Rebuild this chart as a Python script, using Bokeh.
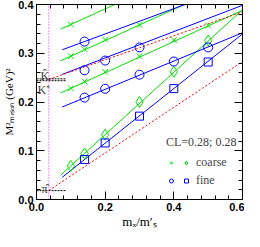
from bokeh.plotting import figure
from bokeh.models import (LinearAxis, FixedTicker, Range1d, Label, Legend,
                          LegendItem, ColumnDataSource)
from bokeh.embed import file_html
from bokeh.resources import INLINE

# ---------------- data ----------------
# coarse lattice (green)
mx_coarse = [0.10, 0.14, 0.20, 0.30, 0.40, 0.50]
pi_coarse = [0.069, 0.094, 0.133, 0.200, 0.262, 0.326]          # diamonds
kC_coarse = [0.228, 0.242, 0.262, 0.294, 0.327, 0.357]          # crosses, lowest K line
mx_kB_coarse = [0.10, 0.14, 0.20, 0.30]
kB_coarse = [0.294, 0.308, 0.328, 0.358]
mx_kA_coarse = [0.10]
kA_coarse = [0.359]

# fine lattice (blue)
mx_fine = [0.14, 0.20, 0.30, 0.40, 0.50]
pi_fine = [0.082, 0.116, 0.171, 0.2275, 0.282]                 # squares
kF_fine = [0.209, 0.227, 0.256, 0.283, 0.312]                  # circles, lowest K line
mx_kE_fine = [0.14, 0.20, 0.30]
kE_fine = [0.265, 0.285, 0.312]
mx_kD_fine = [0.14]
kD_fine = [0.324]

# straight-line fits (intercept, slope)
fit_coarse_int = [0.005, 0.196, 0.262, 0.327]
fit_coarse_slope = [0.64, 0.32, 0.32, 0.32]
fit_fine_int = [0.0036, 0.168, 0.2364, 0.2876]
fit_fine_slope = [0.56, 0.29, 0.27, 0.26]
fit_coarse_xmin = 0.07
fit_fine_xmin = 0.075
fit_xmax = 0.6

# continuum extrapolations (red)
m_phys = 0.036
extrap_int = [0.0016, 0.2374]
extrap_slope = [0.469, 0.246]

# physical reference values
M2_pihat = 0.0182
M2_Khat = 0.2475
M2_Kplus = 0.2437
ref_xmax = 0.085

x_major = [0.0, 0.2, 0.4, 0.6]
x_minor = [0.04, 0.08, 0.12, 0.16, 0.24, 0.28, 0.32, 0.36, 0.44, 0.48, 0.52, 0.56]
y_major = [0.0, 0.1, 0.2, 0.3, 0.4]
y_minor = [0.02, 0.04, 0.06, 0.08, 0.12, 0.14, 0.16, 0.18, 0.22, 0.24, 0.26, 0.28,
           0.32, 0.34, 0.36, 0.38]
x_tick_labels = {0.0: "0.0", 0.2: "0.2", 0.4: "0.4", 0.6: "0.6"}
y_tick_labels = {0.0: "0.0", 0.1: "0.1", 0.2: "0.2", 0.3: "0.3", 0.4: "0.4"}
x_title = "mₓ/m′ₛ"
y_title = "M²ₘₑₛₒₙ (GeV)²"

GREEN = "#00e000"
BLUE = "#0000ff"
RED = "#ff0000"
MAG = "#ff00ff"
SERIF = "Liberation Serif"

X0, X1, Y0, Y1 = 0.0, 0.6, 0.0, 0.4

p = figure(width=244, height=231,
           x_range=Range1d(X0, X1), y_range=Range1d(Y0, Y1),
           output_backend="svg", toolbar_location=None, x_axis_location=None,
           y_axis_location=None, min_border_left=34, min_border_right=2,
           min_border_top=4, min_border_bottom=0)
p.grid.visible = False
p.outline_line_color = "black"
p.outline_line_width = 1
p.background_fill_color = "white"


def make_axis(ticks, minor, labels=True, overrides=None, title=None, tsize="12px"):
    ax = LinearAxis(ticker=FixedTicker(ticks=ticks, minor_ticks=minor))
    ax.major_tick_in = 8
    ax.major_tick_out = 0
    ax.minor_tick_in = 4
    ax.minor_tick_out = 0
    ax.axis_line_color = "black"
    ax.major_tick_line_color = "black"
    ax.minor_tick_line_color = "black"
    if labels:
        ax.major_label_text_font = "Liberation Sans"
        ax.major_label_text_font_style = "bold"
        ax.major_label_text_font_size = "11px"
        ax.major_label_text_color = "black"
        ax.major_label_standoff = 3
        ax.major_label_overrides = overrides
        ax.axis_label = title
        ax.axis_label_text_font = SERIF
        ax.axis_label_text_font_style = "normal"
        ax.axis_label_text_font_size = tsize
        ax.axis_label_text_color = "black"
        ax.axis_label_standoff = 0
    else:
        ax.major_label_text_font_size = "0px"
        ax.major_label_standoff = 0
        ax.major_label_text_alpha = 0
    return ax


p.add_layout(make_axis(x_major, x_minor, True, x_tick_labels, x_title, "13px"), "below")
p.add_layout(make_axis(y_major, y_minor, True, y_tick_labels, y_title, "11px"), "left")
p.add_layout(make_axis(x_major, x_minor, False), "above")
p.add_layout(make_axis(y_major, y_minor, False), "right")

# fit lines
n_c = len(fit_coarse_int)
cs = ColumnDataSource(dict(
    x0=[fit_coarse_xmin] * n_c, x1=[fit_xmax] * n_c,
    y0=[b + m * fit_coarse_xmin for b, m in zip(fit_coarse_int, fit_coarse_slope)],
    y1=[b + m * fit_xmax for b, m in zip(fit_coarse_int, fit_coarse_slope)]))
p.segment("x0", "y0", "x1", "y1", source=cs, line_color=GREEN, line_width=1)
n_f = len(fit_fine_int)
fs = ColumnDataSource(dict(
    x0=[fit_fine_xmin] * n_f, x1=[fit_xmax] * n_f,
    y0=[b + m * fit_fine_xmin for b, m in zip(fit_fine_int, fit_fine_slope)],
    y1=[b + m * fit_xmax for b, m in zip(fit_fine_int, fit_fine_slope)]))
p.segment("x0", "y0", "x1", "y1", source=fs, line_color=BLUE, line_width=1)

# extrapolations
es = ColumnDataSource(dict(
    x0=[m_phys] * 2, x1=[fit_xmax] * 2,
    y0=[b + m * m_phys for b, m in zip(extrap_int, extrap_slope)],
    y1=[b + m * fit_xmax for b, m in zip(extrap_int, extrap_slope)]))
p.segment("x0", "y0", "x1", "y1", source=es, line_color=RED, line_width=1,
          line_dash="2 2")

# physical point vertical
p.segment(x0=[m_phys], y0=[Y0], x1=[m_phys], y1=[Y1], line_color=MAG,
          line_width=1, line_dash="1 2")
# reference horizontal lines
refs = [M2_pihat, M2_Khat, M2_Kplus]
p.segment(x0=[X0] * 3, y0=refs, x1=[ref_xmax] * 3, y1=refs, line_color="black",
          line_width=1, line_dash="2 1")

# data points
r_x = p.scatter(mx_coarse, kC_coarse, marker="x", size=8, line_color=GREEN, line_width=1)
p.scatter(mx_kB_coarse, kB_coarse, marker="x", size=8, line_color=GREEN, line_width=1)
p.scatter(mx_kA_coarse, kA_coarse, marker="x", size=8, line_color=GREEN, line_width=1)
r_d = p.scatter(mx_coarse, pi_coarse, marker="diamond", size=11, line_color=GREEN,
                fill_color=None, line_width=1)
r_c = p.scatter(mx_fine, kF_fine, marker="circle", size=9, line_color=BLUE,
                fill_color=None, line_width=1)
p.scatter(mx_kE_fine, kE_fine, marker="circle", size=9, line_color=BLUE,
          fill_color=None, line_width=1)
p.scatter(mx_kD_fine, kD_fine, marker="circle", size=9, line_color=BLUE,
          fill_color=None, line_width=1)
r_s = p.scatter(mx_fine, pi_fine, marker="square", size=8, line_color=BLUE,
                fill_color=None, line_width=1)

# labels for physical values
p.add_layout(Label(x=X0, y=M2_Khat, x_offset=4, y_offset=3, text="K̂", text_font=SERIF,
                   text_font_size="12px", text_baseline="alphabetic"))
p.add_layout(Label(x=X0, y=M2_Kplus, x_offset=1, y_offset=-2, text="K⁺", text_font=SERIF,
                   text_font_size="12px", text_baseline="top"))
p.add_layout(Label(x=X0, y=M2_pihat, x_offset=5, y_offset=2, text="π̂", text_font=SERIF,
                   text_font_size="12px", text_baseline="alphabetic"))

legend = Legend(items=[LegendItem(label=" ", renderers=[r_x]),
                       LegendItem(label=" ", renderers=[r_c]),
                       LegendItem(label="coarse", renderers=[r_d]),
                       LegendItem(label="fine", renderers=[r_s])],
                ncols=2, title="CL=0.28; 0.28", location=(130, 10),
                glyph_width=10, glyph_height=15, label_standoff=5, spacing=-3,
                label_width=0, padding=0, margin=0, background_fill_alpha=0,
                border_line_alpha=0,
                label_text_font=SERIF, label_text_font_size="12px",
                title_text_font=SERIF, title_text_font_size="12px",
                title_text_font_style="normal", title_standoff=3,
                label_height=18)
p.add_layout(legend, "center")

open("out.html", "w").write(file_html(p, INLINE))
